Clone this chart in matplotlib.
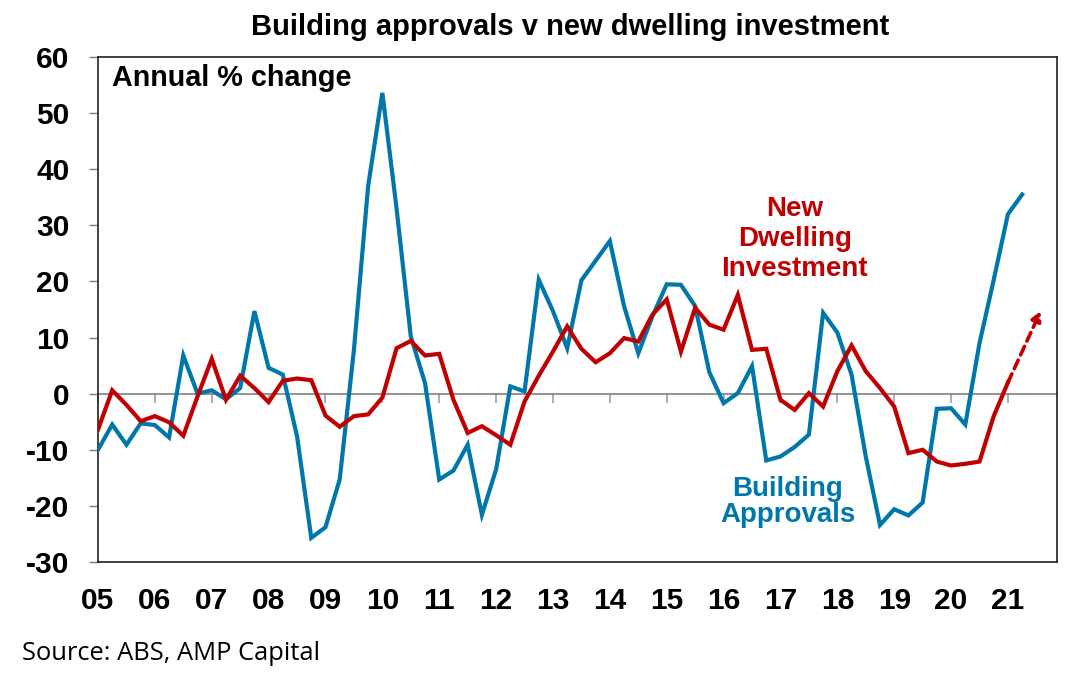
import numpy as np
import matplotlib
matplotlib.use("Agg")
import matplotlib.pyplot as plt

plt.rcParams['font.family'] = ['Liberation Sans', 'DejaVu Sans']
plt.rcParams['axes.unicode_minus'] = False

# quarterly data, Mar-2005 onwards, annual % change
approvals = [-10.0, -5.5, -9.1, -5.3, -5.6, -7.8, 6.8, 0.0, 0.6, -1.0,
             1.0, 14.7, 4.6, 3.4, -7.6, -25.7, -23.8, -15.3, 7.8, 37.0,
             53.6, 33.0, 10.2, 1.9, -15.3, -13.7, -9.1, -21.6, -13.5, 1.3,
             0.4, 20.3, 14.7, 8.1, 20.2, 23.7, 27.2, 15.6, 7.2, 13.8,
             19.5, 19.4, 15.6, 3.8, -1.7, 0.1, 4.9, -11.9, -11.2, -9.5,
             -7.3, 14.4, 10.9, 3.4, -11.2, -23.4, -20.6, -21.7, -19.4, -2.7,
             -2.6, -5.5, 9.0, 20.3, 32.0, 35.5]
dwelling = [-6.4, 0.6, -2.0, -4.9, -4.0, -5.1, -7.5, -0.5, 6.2, -1.1,
            3.2, 1.0, -1.5, 2.3, 2.7, 2.4, -3.9, -5.9, -4.0, -3.7,
            -0.7, 8.1, 9.4, 6.8, 7.1, -1.1, -7.0, -5.8, -7.4, -9.1,
            -1.4, 3.2, 7.5, 12.0, 8.0, 5.6, 7.2, 9.9, 9.3, 14.1,
            16.8, 7.5, 15.3, 12.3, 11.4, 17.6, 7.8, 8.0, -1.1, -2.9,
            0.1, -2.3, 4.0, 8.6, 4.0, 1.0, -2.3, -10.6, -10.0, -12.1,
            -12.8, -12.5, -12.1, -4.0, 2.0]
year_labels = ['05', '06', '07', '08', '09', '10', '11', '12', '13',
               '14', '15', '16', '17', '18', '19', '20', '21']
# projected direction for dwelling investment
arrow_end = (66.3, 14.7)

blue = '#0077AA'
red = '#C00000'

q_ba = np.arange(len(approvals))
q_dw = np.arange(len(dwelling))
year_pos = np.arange(len(year_labels)) * 4

fig = plt.figure(figsize=(10.86, 6.8), dpi=100)
ax = fig.add_axes([98/1086, 118/680, 959/1086, 505/680])

ax.plot(q_ba, approvals, color=blue, lw=3.0, solid_joinstyle='miter', zorder=3)
ax.plot(q_dw, dwelling, color=red, lw=3.0, solid_joinstyle='miter', zorder=4)
ax.annotate('', xy=arrow_end, xytext=(q_dw[-1], dwelling[-1]),
            arrowprops=dict(arrowstyle='-|>,head_length=0.55,head_width=0.3',
                            color=red, lw=2.6, ls=(0, (2.6, 1.6)),
                            shrinkA=0, shrinkB=0), zorder=4)

ax.set_xlim(0, 67.45)
ax.set_ylim(-30, 60)
ax.set_yticks(np.arange(-30, 61, 10))
ax.set_xticks(year_pos)
ax.set_xticklabels(year_labels)
ax.tick_params(axis='x', length=0, pad=18, labelsize=21.5)
ax.tick_params(axis='y', direction='out', length=6.5, width=1, color='#808080',
               pad=14, labelsize=21.5)
for lab in ax.get_xticklabels() + ax.get_yticklabels():
    lab.set_fontweight('bold')
for sp in ax.spines.values():
    sp.set_color('#202020')
    sp.set_linewidth(1.2)

# zero line with the year ticks hanging below it
zero_ax = ax.secondary_xaxis(30/90)
zero_ax.set_xticks(year_pos)
zero_ax.set_xticklabels([])
zero_ax.tick_params(direction='out', length=6.5, width=1.2, color='#A0A0A0')
zero_ax.spines['bottom'].set_color('#808080')
zero_ax.spines['bottom'].set_linewidth(1.2)

fig.text(112/1086, 1 - 86/680, 'Annual % change', fontsize=20.7,
         fontweight='bold', va='baseline', ha='left')
ax.text(49.0, 35.3, 'New\nDwelling\nInvestment', color=red, fontsize=20,
        fontweight='bold', ha='center', va='top', linespacing=1.2)
ax.text(48.5, -14.6, 'Building\nApprovals', color=blue, fontsize=20,
        fontweight='bold', ha='center', va='top', linespacing=1.0)

fig.text(570/1086, 1 - 35/680, 'Building approvals v new dwelling investment',
         fontsize=21, fontweight='bold', ha='center', va='baseline')
fig.text(22/1086, 1 - 660/680, 'Source: ABS, AMP Capital', fontsize=18.4,
         ha='left', va='baseline', family=['Open Sans', 'DejaVu Sans'])

fig.savefig('out.png', dpi=100)
